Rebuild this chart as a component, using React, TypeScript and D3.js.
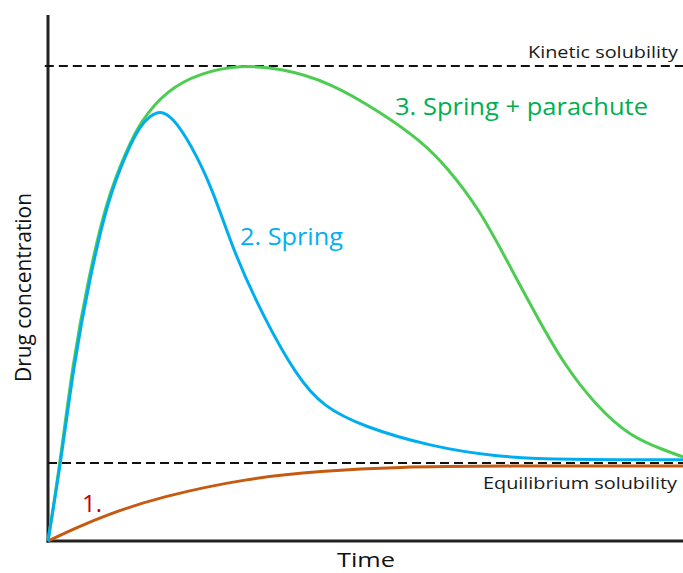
import { useRef, useEffect } from 'react';
import * as d3 from 'd3';

// time / concentration (arbitrary units, 0-100)
const springParachuteT = [0, 1.9, 3.9, 6.3, 9.2, 12.4, 14.5, 18.7, 23.9, 30.2, 36.5, 44.4, 52.3, 58.6, 62.8, 68.0, 72.2, 77.0, 81.1, 86.4, 91.7, 96.9, 100];
const springParachuteC = [0, 16.4, 37.5, 54.9, 71.8, 82.3, 88.2, 94.9, 98.5, 100.2, 99.6, 96.6, 90.3, 84.4, 78.8, 69.7, 59.2, 47.2, 37.5, 28.3, 22.0, 19.2, 17.7];

const springT = [0, 2.0, 4.1, 6.5, 9.4, 12.4, 14.5, 16.1, 17.6, 19.5, 22.4, 26.0, 29.1, 33.9, 39.2, 43.3, 49.6, 60.2, 70.7, 81.1, 100];
const springC = [0, 16.4, 37.5, 54.9, 71.8, 81.9, 87.4, 89.5, 90.6, 89.4, 83.8, 73.9, 61.3, 47.2, 34.6, 28.3, 24.1, 19.9, 17.7, 17.1, 17.1];

const crystallineT = [0, 4.3, 9.2, 17.6, 31.8, 42.8, 54.9, 71.2, 100];
const crystallineC = [0, 2.7, 5.5, 9.3, 13.3, 14.7, 15.6, 15.8, 15.8];

const kineticSolubility = 100;
const equilibriumSolubility = 16.4;

export default function App() {
    const svgRef = useRef<SVGSVGElement>(null);

    const drawChart = () => {
        const svg = d3.select(svgRef.current);
        svg.selectAll('*').remove();
        const font = '"Open Sans", sans-serif';

        const x = d3.scaleLinear().domain([0, 100]).range([48, 683]);
        const y = d3.scaleLinear().domain([0, 100]).range([541, 66]);

        // axes (no ticks)
        svg.append('line')
            .attr('x1', 48).attr('x2', 48).attr('y1', 15).attr('y2', 542.5)
            .attr('stroke', '#222').attr('stroke-width', 3);
        svg.append('line')
            .attr('x1', 46.5).attr('x2', 683).attr('y1', 541).attr('y2', 541)
            .attr('stroke', '#222').attr('stroke-width', 3);

        // reference lines
        const refs = [
            { v: kineticSolubility, x0: -0.5 },
            { v: equilibriumSolubility, x0: 0 }
        ];
        refs.forEach(r => {
            svg.append('line')
                .attr('x1', x(r.x0)).attr('x2', x(100))
                .attr('y1', y(r.v)).attr('y2', y(r.v))
                .attr('stroke', '#111').attr('stroke-width', 2)
                .attr('stroke-dasharray', '9,5');
        });

        // basis curve smooths the hand-read points like the original drawing
        const line = d3.line<[number, number]>()
            .x(d => x(d[0]))
            .y(d => y(d[1]))
            .curve(d3.curveBasis);

        const series = [
            { t: crystallineT, c: crystallineC, color: '#c55a11' },
            { t: springParachuteT, c: springParachuteC, color: '#4dcc52' },
            { t: springT, c: springC, color: '#00aef0' }
        ];
        series.forEach(s => {
            svg.append('path')
                .datum(s.t.map((t, i) => [t, s.c[i]] as [number, number]))
                .attr('d', line)
                .attr('fill', 'none')
                .attr('stroke', s.color)
                .attr('stroke-width', 3);
        });

        // labels
        const label = (txt: string, px: number, py: number, size: number, color: string, len: number) =>
            svg.append('text')
                .attr('x', px).attr('y', py)
                .attr('font-family', font)
                .attr('font-size', size)
                .attr('fill', color)
                .attr('textLength', len)
                .attr('lengthAdjust', 'spacingAndGlyphs')
                .text(txt);

        label('Kinetic solubility', 528, 58, 17, '#1a1a1a', 150);
        label('Equilibrium solubility', 483, 489, 17, '#1a1a1a', 194);
        label('3. Spring + parachute', 395, 115, 24, '#00b050', 253);
        label('2. Spring', 240, 245, 24, '#00b0f0', 103);
        label('1.', 82, 512, 23, '#c00000', 20);
        label('Time', 337, 567, 20, '#111', 58);

        svg.append('text')
            .attr('transform', 'translate(31, 382) rotate(-90)')
            .attr('font-family', font)
            .attr('font-size', 22)
            .attr('fill', '#111')
            .attr('textLength', 189)
            .attr('lengthAdjust', 'spacingAndGlyphs')
            .text('Drug concentration');
    };

    useEffect(() => {
        drawChart();
    }, []);

    return (
        <svg ref={svgRef} width={683} height={573}
            style={{ position: 'absolute', left: 0, top: 0, background: '#fff' }} />
    );
}
